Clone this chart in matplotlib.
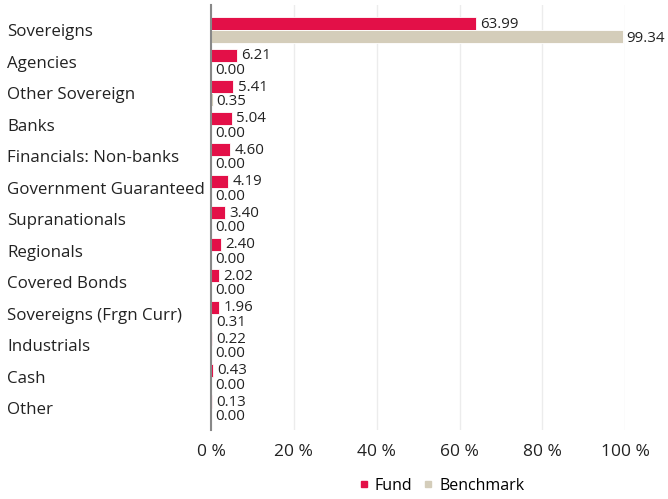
import numpy as np
import matplotlib.pyplot as plt
from matplotlib.lines import Line2D

categories = ["Sovereigns", "Agencies", "Other Sovereign", "Banks", "Financials: Non-banks",
              "Government Guaranteed", "Supranationals", "Regionals", "Covered Bonds",
              "Sovereigns (Frgn Curr)", "Industrials", "Cash", "Other"]
fund = [63.99, 6.21, 5.41, 5.04, 4.60, 4.19, 3.40, 2.40, 2.02, 1.96, 0.22, 0.43, 0.13]
benchmark = [99.34, 0.00, 0.35, 0.00, 0.00, 0.00, 0.00, 0.00, 0.00, 0.31, 0.00, 0.00, 0.00]
xticks = [0, 20, 40, 60, 80, 100]

FUND_C = "#e31048"
BENCH_C = "#d4cdba"
TXT = "#222222"

plt.rcParams['font.family'] = ['Open Sans', 'DejaVu Sans']

fig = plt.figure(figsize=(6.68, 4.99), dpi=100)
ax = fig.add_axes([0.316, 0.138, 0.62, 0.852])

y = np.arange(len(categories))
h = 0.41
ax.barh(y - h / 2, fund, height=h, color=FUND_C, edgecolor="white", linewidth=0.6, zorder=3)
ax.barh(y + h / 2, benchmark, height=h, color=BENCH_C, edgecolor="white", linewidth=0.6, zorder=3)

for i in range(len(categories)):
    ax.text(fund[i] + 1.0, y[i] - h / 2 + 0.02, "%.2f" % fund[i], va="center", ha="left",
            fontsize=10.8, color=TXT, zorder=4)
    ax.text(benchmark[i] + 1.0, y[i] + h / 2 + 0.07, "%.2f" % benchmark[i], va="center", ha="left",
            fontsize=10.8, color=TXT, zorder=4)

ax.set_ylim(len(categories) - 0.3, -0.8)
ax.set_xlim(0, 100)
ax.set_yticks(y)
ax.set_yticklabels(categories, fontsize=12.2, color=TXT)
ax.set_xticks(xticks)
ax.set_xticklabels(["%d %%" % t for t in xticks], fontsize=12.5, color=TXT)
ax.tick_params(axis="both", length=0)
ax.tick_params(axis="y", pad=147)
for lab in ax.get_yticklabels():
    lab.set_horizontalalignment("left")
ax.tick_params(axis="x", pad=10)

ax.grid(axis="x", color="#ececec", linewidth=1, zorder=0)
for s in ["top", "right", "bottom"]:
    ax.spines[s].set_visible(False)
ax.spines["left"].set_color("#888888")
ax.spines["left"].set_linewidth(1.5)
ax.spines["left"].set_zorder(5)

handles = [Line2D([], [], marker="s", linestyle="", color=FUND_C, markersize=5),
           Line2D([], [], marker="s", linestyle="", color=BENCH_C, markersize=5)]
fig.legend(handles, ["Fund", "Benchmark"], loc="center", bbox_to_anchor=(0.66, 0.026),
           ncol=2, frameon=False, fontsize=11.5, handletextpad=0.3, columnspacing=0.6,
           handlelength=0.8)

fig.savefig("out.png", dpi=100)
